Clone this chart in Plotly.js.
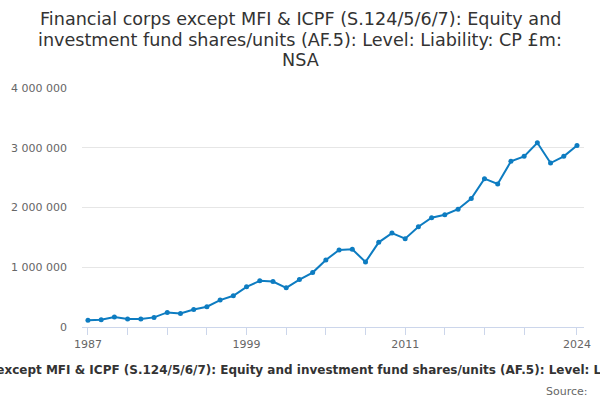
<!DOCTYPE html>
<html>
<head>
<meta charset="utf-8">
<script src="https://cdn.plot.ly/plotly-3.0.1.min.js"></script>
<style>
  html, body { margin: 0; padding: 0; background: #fff; }
  #chart { width: 600px; height: 400px; }
</style>
</head>
<body>
<div id="chart"></div>
<script>
// years and levels (£m)
var years = [1987, 1988, 1989, 1990, 1991, 1992, 1993, 1994, 1995, 1996,
             1997, 1998, 1999, 2000, 2001, 2002, 2003, 2004, 2005, 2006,
             2007, 2008, 2009, 2010, 2011, 2012, 2013, 2014, 2015, 2016,
             2017, 2018, 2019, 2020, 2021, 2022, 2023, 2024];
var levels = [111000, 122000, 167000, 133000, 133000, 161000, 244000, 228000, 294000, 339000,
              450000, 522000, 672000, 772000, 761000, 656000, 794000, 911000, 1122000, 1289000,
              1300000, 1089000, 1417000, 1572000, 1478000, 1678000, 1828000, 1878000, 1972000, 2150000,
              2483000, 2394000, 2772000, 2856000, 3083000, 2744000, 2856000, 3039000];

var tickYears = [1987, 1990, 1993, 1996, 1999, 2002, 2005, 2008, 2011, 2014, 2017, 2020, 2024];
var tickLabels = ['1987', '', '', '', '1999', '', '', '', '2011', '', '', '', '2024'];
var yTicks = [0, 1000000, 2000000, 3000000, 4000000];

var seriesName = 'Financial corps except MFI & ICPF (S.124/5/6/7): Equity and investment fund shares/units (AF.5): Level: Liability: CP £m: NSA';
var titleLines = ['Financial corps except MFI & ICPF (S.124/5/6/7): Equity and',
                  'investment fund shares/units (AF.5): Level: Liability: CP £m:',
                  'NSA'];
var titleLineY = [19, 40, 60];   // pixel rows of the title lines

// plot area in pixels, used to turn pixel spots into paper coords
var plotL = 82, plotW = 502, plotT = 88, plotH = 239;
function px(x) { return (x - plotL) / plotW; }
function py(y) { return 1 + (plotT - y) / plotH; }

var trace = {
  x: years,
  y: levels,
  type: 'scatter',
  mode: 'lines+markers',
  line: {color: '#0d7cc1', width: 2},
  marker: {color: '#0d7cc1', size: 5},
  hoverinfo: 'x+y'
};

var notes = titleLines.map(function(t, i) {
  return {
    text: t,
    xref: 'paper', yref: 'paper',
    x: px(300), y: py(titleLineY[i]),
    xanchor: 'center', yanchor: 'middle',
    showarrow: false,
    font: {family: 'DejaVu Sans, sans-serif', size: 17.6, color: '#333'}
  };
});

notes.push({
  text: '<b>' + seriesName + '</b>',
  xref: 'paper', yref: 'paper',
  x: px(313), y: py(370),
  xanchor: 'center', yanchor: 'middle',
  showarrow: false,
  font: {size: 12, color: '#333'}
});
notes.push({
  text: 'Source: ',
  xref: 'paper', yref: 'paper',
  x: px(593), y: py(391),
  xanchor: 'right', yanchor: 'middle',
  showarrow: false,
  font: {size: 11, color: '#666'}
});

var layout = {
  width: 600,
  height: 400,
  margin: {l: plotL, r: 600 - plotL - plotW, t: plotT, b: 400 - plotT - plotH},
  paper_bgcolor: '#fff',
  plot_bgcolor: '#fff',
  separators: '. ',
  font: {family: 'DejaVu Sans, sans-serif', color: '#666', size: 11},
  showlegend: false,
  xaxis: {
    range: [1986.55, 2024.53],
    tickmode: 'array',
    tickvals: tickYears,
    ticktext: tickLabels,
    ticks: 'outside',
    ticklen: 7,
    tickcolor: '#ccd6eb',
    showline: true,
    linecolor: '#ccd6eb',
    linewidth: 1,
    showgrid: false,
    zeroline: false,
    tickfont: {size: 11, color: '#666'}
  },
  yaxis: {
    range: [0, 4000000],
    tickmode: 'array',
    tickvals: yTicks,
    tickformat: ',d',
    showgrid: true,
    gridcolor: '#e6e6e6',
    zeroline: false,
    ticks: '',
    ticklabelstandoff: 14,
    tickfont: {size: 11, color: '#666'}
  },
  annotations: notes
};

Plotly.newPlot('chart', [trace], layout, {staticPlot: true, displayModeBar: false});
</script>
</body>
</html>
